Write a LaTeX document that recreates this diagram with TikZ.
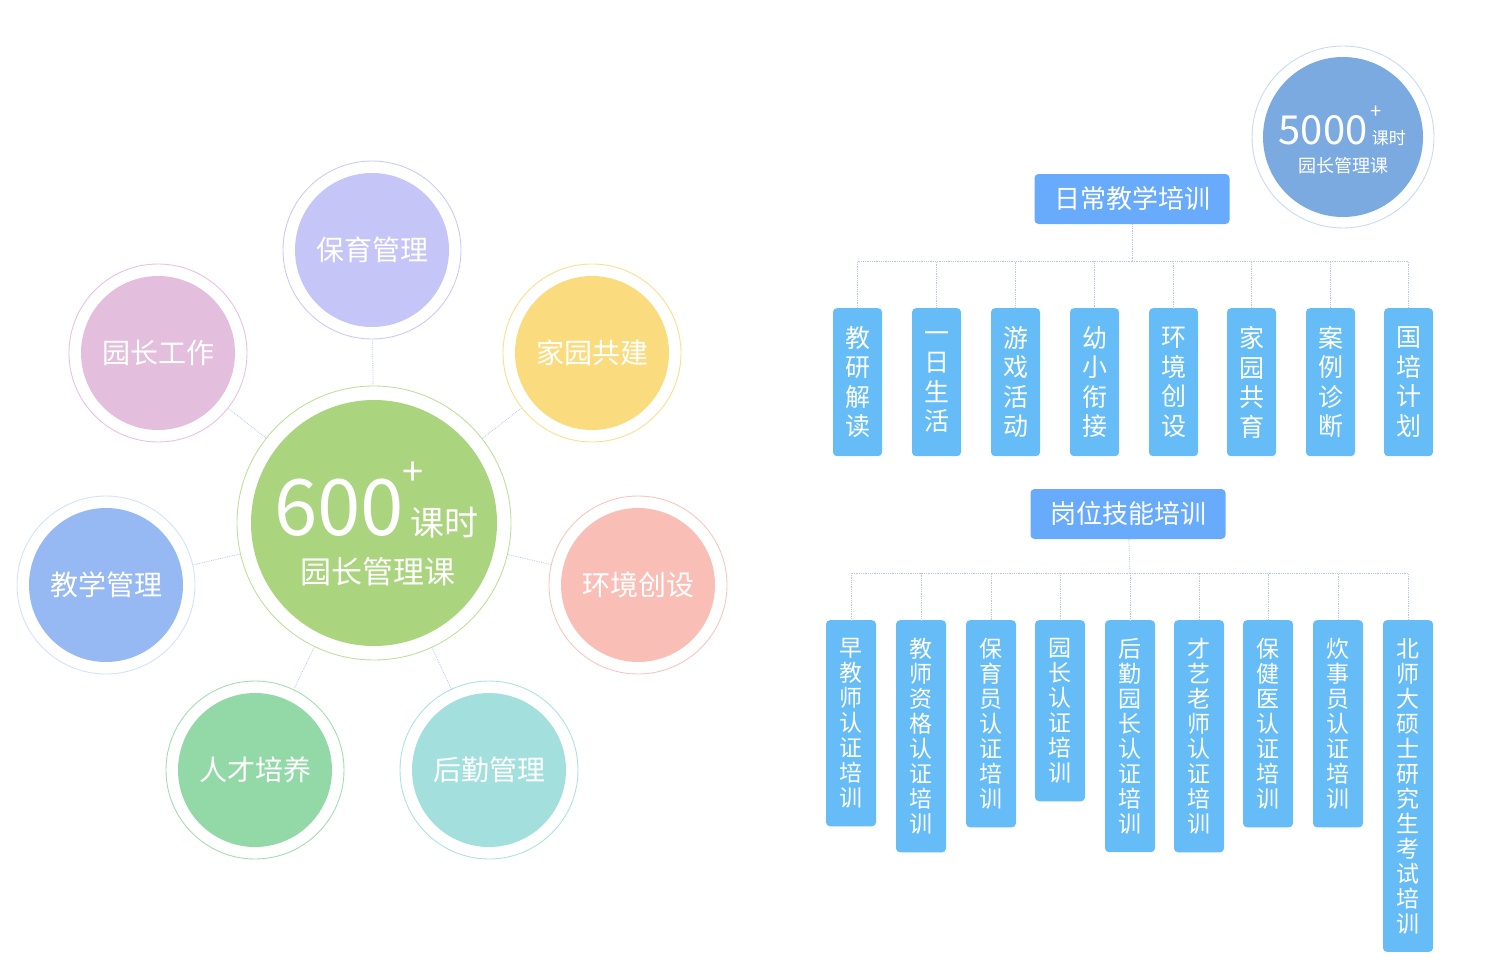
\documentclass[tikz,border=0pt]{standalone}
\usepackage{fontspec}
\newfontfamily\cjk{Noto Sans CJK SC}
\usepackage{tikz}

\definecolor{coregreen}{HTML}{ABD47E}
\definecolor{corering}{HTML}{BEE09A}
\definecolor{lilac}{HTML}{C5C5F8}
\definecolor{lilacring}{HTML}{CACAFA}
\definecolor{pinkish}{HTML}{E3BEDD}
\definecolor{pinkring}{HTML}{E8C2E2}
\definecolor{sun}{HTML}{FADB7E}
\definecolor{sunring}{HTML}{FCDF8C}
\definecolor{sky}{HTML}{97B9F3}
\definecolor{skyring}{HTML}{D2E2F8}
\definecolor{salmon}{HTML}{F9BFB7}
\definecolor{salmonring}{HTML}{F7C6C0}
\definecolor{mint}{HTML}{93D9A7}
\definecolor{mintring}{HTML}{A4DDB3}
\definecolor{aqua}{HTML}{A3E0DD}
\definecolor{aquaring}{HTML}{ACE2DF}
\definecolor{bigblue}{HTML}{7BAAE1}
\definecolor{bigring}{HTML}{C8DAF2}
\definecolor{headblue}{HTML}{68AAFC}
\definecolor{colblue}{HTML}{66BCF7}
\definecolor{linkblue}{HTML}{B4C6F6}

\begin{document}
\begin{tikzpicture}[x=1pt, y=-1pt,
  ring/.style={circle, draw, line width=0.9pt, inner sep=0pt, minimum size=178pt},
  bubble/.style={circle, inner sep=0pt, minimum size=154pt, text=white, font=\cjk\fontsize{28}{28}\selectfont},
  link/.style={draw=linkblue, densely dotted, line width=0.8pt},
  whitetext/.style={text=white, inner sep=0pt},
  head/.style={rectangle, rounded corners=4pt, fill=headblue, text=white, minimum width=195pt, minimum height=50pt, font=\cjk\fontsize{26}{26}\selectfont},
  daybox/.style={rectangle, rounded corners=4pt, fill=colblue, text=white, minimum width=49pt, minimum height=148pt, inner xsep=0pt, inner ysep=17pt, anchor=north, align=center, font=\cjk\fontsize{25}{29.5}\selectfont},
  postbox/.style={daybox, minimum width=50pt, minimum height=0pt, inner ysep=18pt, font=\cjk\fontsize{23}{25}\selectfont}]

\useasboundingbox (0,0) rectangle (1490,974);

% Core circle
\node[ring, draw=corering, minimum size=274pt] (core) at (374,523) {};
\node[circle, fill=coregreen, minimum size=246pt, inner sep=0pt] (corefill) at (core) {};
\node[whitetext, anchor=base, font=\cjk\fontsize{78}{78}\selectfont] (hours) at (339,535) {600};
\node[whitetext, anchor=base west, font=\cjk\fontsize{34}{34}\selectfont] (unit) at ([xshift=6pt]hours.base east) {课时};
\node[whitetext, font=\cjk\fontsize{38}{38}\selectfont] (plus) at (413,474) {+};
\node[whitetext, anchor=base, font=\cjk\fontsize{31}{31}\selectfont] (title) at (378,583) {园长管理课};

% Satellites
\node[ring, draw=lilacring] (baoyu) at (372,250) {};
\node[bubble, fill=lilac] (baoyutext) at (baoyu) {保育管理};

\node[ring, draw=pinkring] (yuanzhang) at (158,353) {};
\node[bubble, fill=pinkish] (yuanzhangtext) at (yuanzhang) {园长工作};

\node[ring, draw=sunring] (jiayuan) at (592,353) {};
\node[bubble, fill=sun] (jiayuantext) at (jiayuan) {家园共建};

\node[ring, draw=skyring] (jiaoxue) at (106,585) {};
\node[bubble, fill=sky] (jiaoxuetext) at (jiaoxue) {教学管理};

\node[ring, draw=salmonring] (huanjing) at (638,585) {};
\node[bubble, fill=salmon] (huanjingtext) at (huanjing) {环境创设};

\node[ring, draw=mintring] (rencai) at (255,770) {};
\node[bubble, fill=mint] (rencaitext) at (rencai) {人才培养};

\node[ring, draw=aquaring] (houqin) at (489,770) {};
\node[bubble, fill=aqua] (houqintext) at (houqin) {后勤管理};

\draw[link] (core) -- (baoyu);
\draw[link] (core) -- (yuanzhang);
\draw[link] (core) -- (jiayuan);
\draw[link] (core) -- (jiaoxue);
\draw[link] (core) -- (huanjing);
\draw[link] (core) -- (rencai);
\draw[link] (core) -- (houqin);

% 5000 circle
\node[ring, draw=bigring, minimum size=182pt] (total) at (1343,137) {};
\node[circle, fill=bigblue, minimum size=160pt, inner sep=0pt] (totalfill) at (total) {};
\node[whitetext, anchor=base, font=\cjk\fontsize{40}{40}\selectfont] (bighours) at (1323,144) {5000};
\node[whitetext, anchor=base west, font=\cjk\fontsize{17}{17}\selectfont] (bigunit) at ([xshift=4pt]bighours.base east) {课时};
\node[whitetext, font=\cjk\fontsize{20}{20}\selectfont] (bigplus) at (1376,112) {+};
\node[whitetext, anchor=base, font=\cjk\fontsize{18}{18}\selectfont] (bigtitle) at (1343,172) {园长管理课};

% Daily teaching
\node[head] (daily) at (1132,199) {日常教学培训};
\coordinate (dbar) at (1132,261);

\node[daybox] (d1) at (857.5,308) {教\\研\\解\\读};
\node[daybox] (d2) at (936.5,308) {一\\日\\生\\活};
\node[daybox] (d3) at (1015.5,308) {游\\戏\\活\\动};
\node[daybox] (d4) at (1094.5,308) {幼\\小\\衔\\接};
\node[daybox] (d5) at (1173.5,308) {环\\境\\创\\设};
\node[daybox] (d6) at (1251.5,308) {家\\园\\共\\育};
\node[daybox] (d7) at (1330.5,308) {案\\例\\诊\\断};
\node[daybox] (d8) at (1408.5,308) {国\\培\\计\\划};

\draw[link] (daily) -- (dbar);
\draw[link] (dbar) -| (d1);
\draw[link] (dbar) -| (d2);
\draw[link] (dbar) -| (d3);
\draw[link] (dbar) -| (d4);
\draw[link] (dbar) -| (d5);
\draw[link] (dbar) -| (d6);
\draw[link] (dbar) -| (d7);
\draw[link] (dbar) -| (d8);

% Post skills
\node[head] (post) at (1128,514) {岗位技能培训};
\coordinate (pbar) at (1130,573);

\node[postbox] (p1) at (851,620) {早\\教\\师\\认\\证\\培\\训};
\node[postbox] (p2) at (921,620) {教\\师\\资\\格\\认\\证\\培\\训};
\node[postbox] (p3) at (991,620) {保\\育\\员\\认\\证\\培\\训};
\node[postbox] (p4) at (1060,620) {园\\长\\认\\证\\培\\训};
\node[postbox] (p5) at (1130,620) {后\\勤\\园\\长\\认\\证\\培\\训};
\node[postbox] (p6) at (1199,620) {才\\艺\\老\\师\\认\\证\\培\\训};
\node[postbox] (p7) at (1268,620) {保\\健\\医\\认\\证\\培\\训};
\node[postbox] (p8) at (1338,620) {炊\\事\\员\\认\\证\\培\\训};
\node[postbox] (p9) at (1408,620) {北\\师\\大\\硕\\士\\研\\究\\生\\考\\试\\培\\训};

\draw[link] (post) -- (pbar);
\draw[link] (pbar) -| (p1);
\draw[link] (pbar) -| (p2);
\draw[link] (pbar) -| (p3);
\draw[link] (pbar) -| (p4);
\draw[link] (pbar) -| (p5);
\draw[link] (pbar) -| (p6);
\draw[link] (pbar) -| (p7);
\draw[link] (pbar) -| (p8);
\draw[link] (pbar) -| (p9);
\end{tikzpicture}
\end{document}
